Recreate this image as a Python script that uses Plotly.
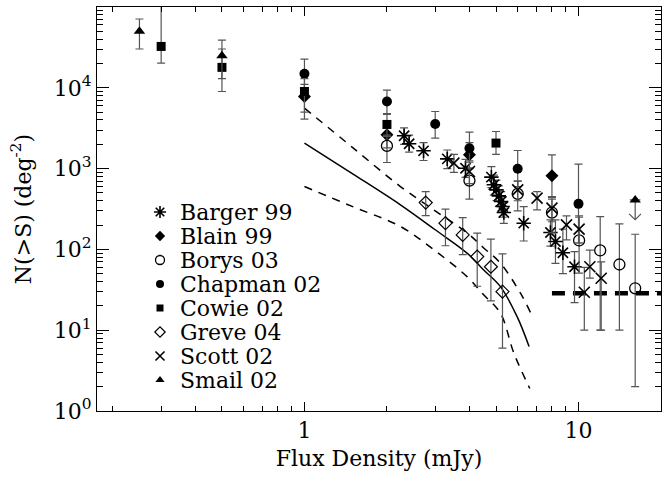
import numpy as np
import plotly.graph_objects as go

# ---------------- data ----------------
barger_x = [2.31, 2.41, 2.72, 3.32, 3.87, 4.81, 4.91, 5.02, 5.12, 5.22, 5.29, 5.34, 6.31, 7.9, 8.24, 8.77, 9.67]
barger_y = [2550, 2030, 1660, 1320, 1010, 784, 630, 546, 460, 392, 340, 286, 211, 162, 125, 91, 61]
barger_hi = [3200, 2600, 2100, 1700, 1300, 1060, 830, 720, 610, 520, 450, 380, 339, 232, 232, 178, 94]
barger_lo = [2000, 1600, 1260, 1000, 780, 580, 470, 400, 340, 290, 250, 210, 127, 110, 67, 50, 22]

blain_x = [1.0, 2.0, 4.0, 8.0]
blain_y = [7800, 2620, 1480, 814]
blain_hi = [11000, 3600, 2100, 1480]
blain_lo = [5000, 1800, 1000, 450]

borys_x = [2.0, 4.0, 6.0, 8.0, 10.05, 12.0, 14.1, 16.1]
borys_y = [1910, 711, 487, 286, 129, 97, 65, 33]
borys_hi = [2600, 1000, 700, 420, 250, 255, 207, 154]
borys_lo = [1190, 420, 300, 160, 51, 10, 10, 2]

chapman_x = [1.0, 2.0, 3.0, 4.0, 6.0, 10.0]
chapman_y = [14900, 6770, 3560, 1790, 994, 366]
chapman_hi = [22700, 9380, 5090, 2830, 1675, 1137]
chapman_lo = [10000, 4700, 2390, 1200, 600, 120]

cowie_x = [0.3, 0.5, 1.0, 2.0, 5.0]
cowie_y = [32500, 17900, 9000, 3520, 2070]
cowie_hi = [120000, 30200, 13000, 4800, 2880]
cowie_lo = [20200, 9000, 4100, 2500, 1500]

greve_x = [2.77, 3.27, 3.78, 4.27, 4.79, 5.28]
greve_y = [380, 211, 151, 81.5, 61, 30]
greve_hi = [520, 315, 248, 159, 134, 88]
greve_lo = [262, 111, 86, 35, 23, 6]

scott_x = [3.51, 4.0, 6.0, 7.06, 8.0, 9.04, 10.05, 11.0, 12.1, 10.5]
scott_y = [1170, 920, 546, 431, 324, 201, 178, 61, 44, 29.5]
scott_hi = [1500, 1250, 700, 520, 440, 260, 260, 98, 70, 60]
scott_lo = [900, 650, 400, 309, 220, 131, 120, 44, 10, 10]

smail_x = [0.25, 0.5]
smail_y = [50000, 25000]
smail_hi = [71000, 39000]
smail_lo = [30200, 13000]
smail_limit_x = [16.1]
smail_limit_y = [410]
smail_limit_tip = [233]

# model curves
model_x = [1.0, 1.5, 2.24, 3.0, 3.92, 4.5, 5.19, 5.97, 6.6]
model_y = [2070, 860, 356, 175, 90, 56, 34.6, 14.7, 6.3]
upper_x = [1.0, 1.5, 2.24, 3.0, 3.92, 4.5, 5.19, 6.14, 6.7]
upper_y = [5610, 1820, 600, 300, 160, 105, 67.5, 28.7, 16.2]
lower_x = [1.0, 1.5, 2.24, 2.97, 3.92, 4.5, 5.19, 5.81, 6.64]
lower_y = [600, 338, 192, 98.6, 46, 27.6, 16.2, 5.2, 1.9]

limit_x = [8.0, 20.0]
limit_y = [28.7, 28.7]

y_tickvals = [1, 10, 100, 1000, 10000, 100000]
y_ticktext = ["10<sup>0</sup>", "10<sup>1</sup>", "10<sup>2</sup>", "10<sup>3</sup>", "10<sup>4</sup>", "10<sup>5</sup>"]
x_tickvals = [1, 10]
x_ticktext = ["1", "10"]

# ---------------- figure ----------------
FONT = "DejaVu Serif"
ERRC = "#555555"
fig = go.Figure()


def err(y, hi, lo):
    y = np.array(y, float)
    return dict(type="data", symmetric=False, array=list(np.array(hi) - y),
                arrayminus=list(y - np.array(lo)), color=ERRC, thickness=1.2, width=4)


series = [
    ("Barger 99", barger_x, barger_y, barger_hi, barger_lo, "asterisk-open", 12, 1.6),
    ("Blain 99", blain_x, blain_y, blain_hi, blain_lo, "diamond", 10, 0),
    ("Borys 03", borys_x, borys_y, borys_hi, borys_lo, "circle-open", 11, 1.3),
    ("Chapman 02", chapman_x, chapman_y, chapman_hi, chapman_lo, "circle", 10, 0),
    ("Cowie 02", cowie_x, cowie_y, cowie_hi, cowie_lo, "square", 9, 0),
    ("Greve 04", greve_x, greve_y, greve_hi, greve_lo, "diamond-open", 10, 1.2),
    ("Scott 02", scott_x, scott_y, scott_hi, scott_lo, "x-thin-open", 11, 1.6),
    ("Smail 02", smail_x, smail_y, smail_hi, smail_lo, "triangle-up", 10, 0),
]

# model curves
fig.add_trace(go.Scatter(x=model_x, y=model_y, mode="lines", line=dict(color="black", width=1.5, shape="spline"),
                         showlegend=False, hoverinfo="skip"))
for cx, cy in [(upper_x, upper_y), (lower_x, lower_y)]:
    fig.add_trace(go.Scatter(x=cx, y=cy, mode="lines",
                             line=dict(color="black", width=1.5, dash="8px,7px", shape="spline"),
                             showlegend=False, hoverinfo="skip"))
fig.add_trace(go.Scatter(x=limit_x, y=limit_y, mode="lines",
                         line=dict(color="black", width=4.5, dash="13px,8px"),
                         showlegend=False, hoverinfo="skip"))

for name, x, y, hi, lo, sym, size, lw in series:
    fig.add_trace(go.Scatter(
        x=x, y=y, mode="markers", name=name, showlegend=False,
        marker=dict(symbol=sym, size=size, color="black", line=dict(color="black", width=lw)),
        error_y=err(y, hi, lo)))

# Smail upper limit with downward arrow
fig.add_trace(go.Scatter(x=smail_limit_x * 2, y=smail_limit_y + smail_limit_tip, mode="lines",
                         line=dict(color=ERRC, width=1.2), showlegend=False, hoverinfo="skip"))
fig.add_trace(go.Scatter(x=[smail_limit_x[0] * 0.95, smail_limit_x[0], smail_limit_x[0] * 1.05],
                         y=[smail_limit_tip[0] * 1.18, smail_limit_tip[0], smail_limit_tip[0] * 1.18],
                         mode="lines", line=dict(color=ERRC, width=1.2), showlegend=False, hoverinfo="skip"))
fig.add_trace(go.Scatter(x=[smail_limit_x[0] * 0.955, smail_limit_x[0] * 1.045], y=smail_limit_y * 2,
                         mode="lines", line=dict(color=ERRC, width=1.2), showlegend=False, hoverinfo="skip"))
fig.add_trace(go.Scatter(x=smail_limit_x, y=smail_limit_y, mode="markers", showlegend=False,
                         marker=dict(symbol="triangle-up", size=10, color="black")))

# hand-placed legend (keeps the original tight row spacing)
L, R, T, B = 97, 4, 7, 71
W, H = 665, 482
pw, ph = W - L - R, H - T - B
LEG_MX, LEG_TX, LEG_Y0, LEG_DY = 160, 178, 212, 24
leg_mx = (LEG_MX - L) / pw
leg_tx = (LEG_TX - L) / pw
for i, (name, x, y, hi, lo, sym, size, lw) in enumerate(series):
    py = (H - B - (LEG_Y0 + i * LEG_DY)) / ph
    fig.add_trace(go.Scatter(x=[leg_mx], y=[py], xaxis="x2", yaxis="y2", mode="markers", showlegend=False,
                             marker=dict(symbol=sym, size=size - 2, color="black",
                                         line=dict(color="black", width=lw)),
                             hoverinfo="skip"))
    fig.add_annotation(x=leg_tx, y=py, xref="paper", yref="paper", text=name, showarrow=False,
                       xanchor="left", yanchor="middle", font=dict(family=FONT, size=22, color="black"))

axis_common = dict(type="log", showline=True, linecolor="black", linewidth=1, mirror="allticks",
                   ticks="inside", tickcolor="black", tickwidth=1, showgrid=False, zeroline=False,
                   tickfont=dict(family=FONT, size=22, color="black"))

minor_x = [0.2, 0.3, 0.4, 0.5, 0.6, 0.7, 0.8, 0.9, 2, 3, 4, 5, 6, 7, 8, 9, 20]
minor_y = [m * d for d in [1, 10, 100, 1000, 10000] for m in range(2, 10)]

fig.update_layout(
    width=W, height=H, margin=dict(l=L, r=R, t=T, b=B),
    paper_bgcolor="white", plot_bgcolor="white",
    xaxis=dict(axis_common, range=[np.log10(0.175), np.log10(20)], tickvals=x_tickvals, ticktext=x_ticktext,
               ticklen=9, minor=dict(ticks="inside", ticklen=5, tickvals=minor_x, tickcolor="black"),
               title=dict(text="Flux Density (mJy)", font=dict(family=FONT, size=22, color="black"), standoff=8)),
    yaxis=dict(axis_common, range=[0, 5], tickvals=y_tickvals, ticktext=y_ticktext,
               ticklen=12, minor=dict(ticks="inside", ticklen=6, tickvals=minor_y, tickcolor="black"),
               title=dict(text="N(>S) (deg<sup>-2</sup>)", font=dict(family=FONT, size=22, color="black"), standoff=16)),
    xaxis2=dict(overlaying="x", range=[0, 1], visible=False),
    yaxis2=dict(overlaying="y", range=[0, 1], visible=False),
    showlegend=False,
)

fig.write_html("out.html")
